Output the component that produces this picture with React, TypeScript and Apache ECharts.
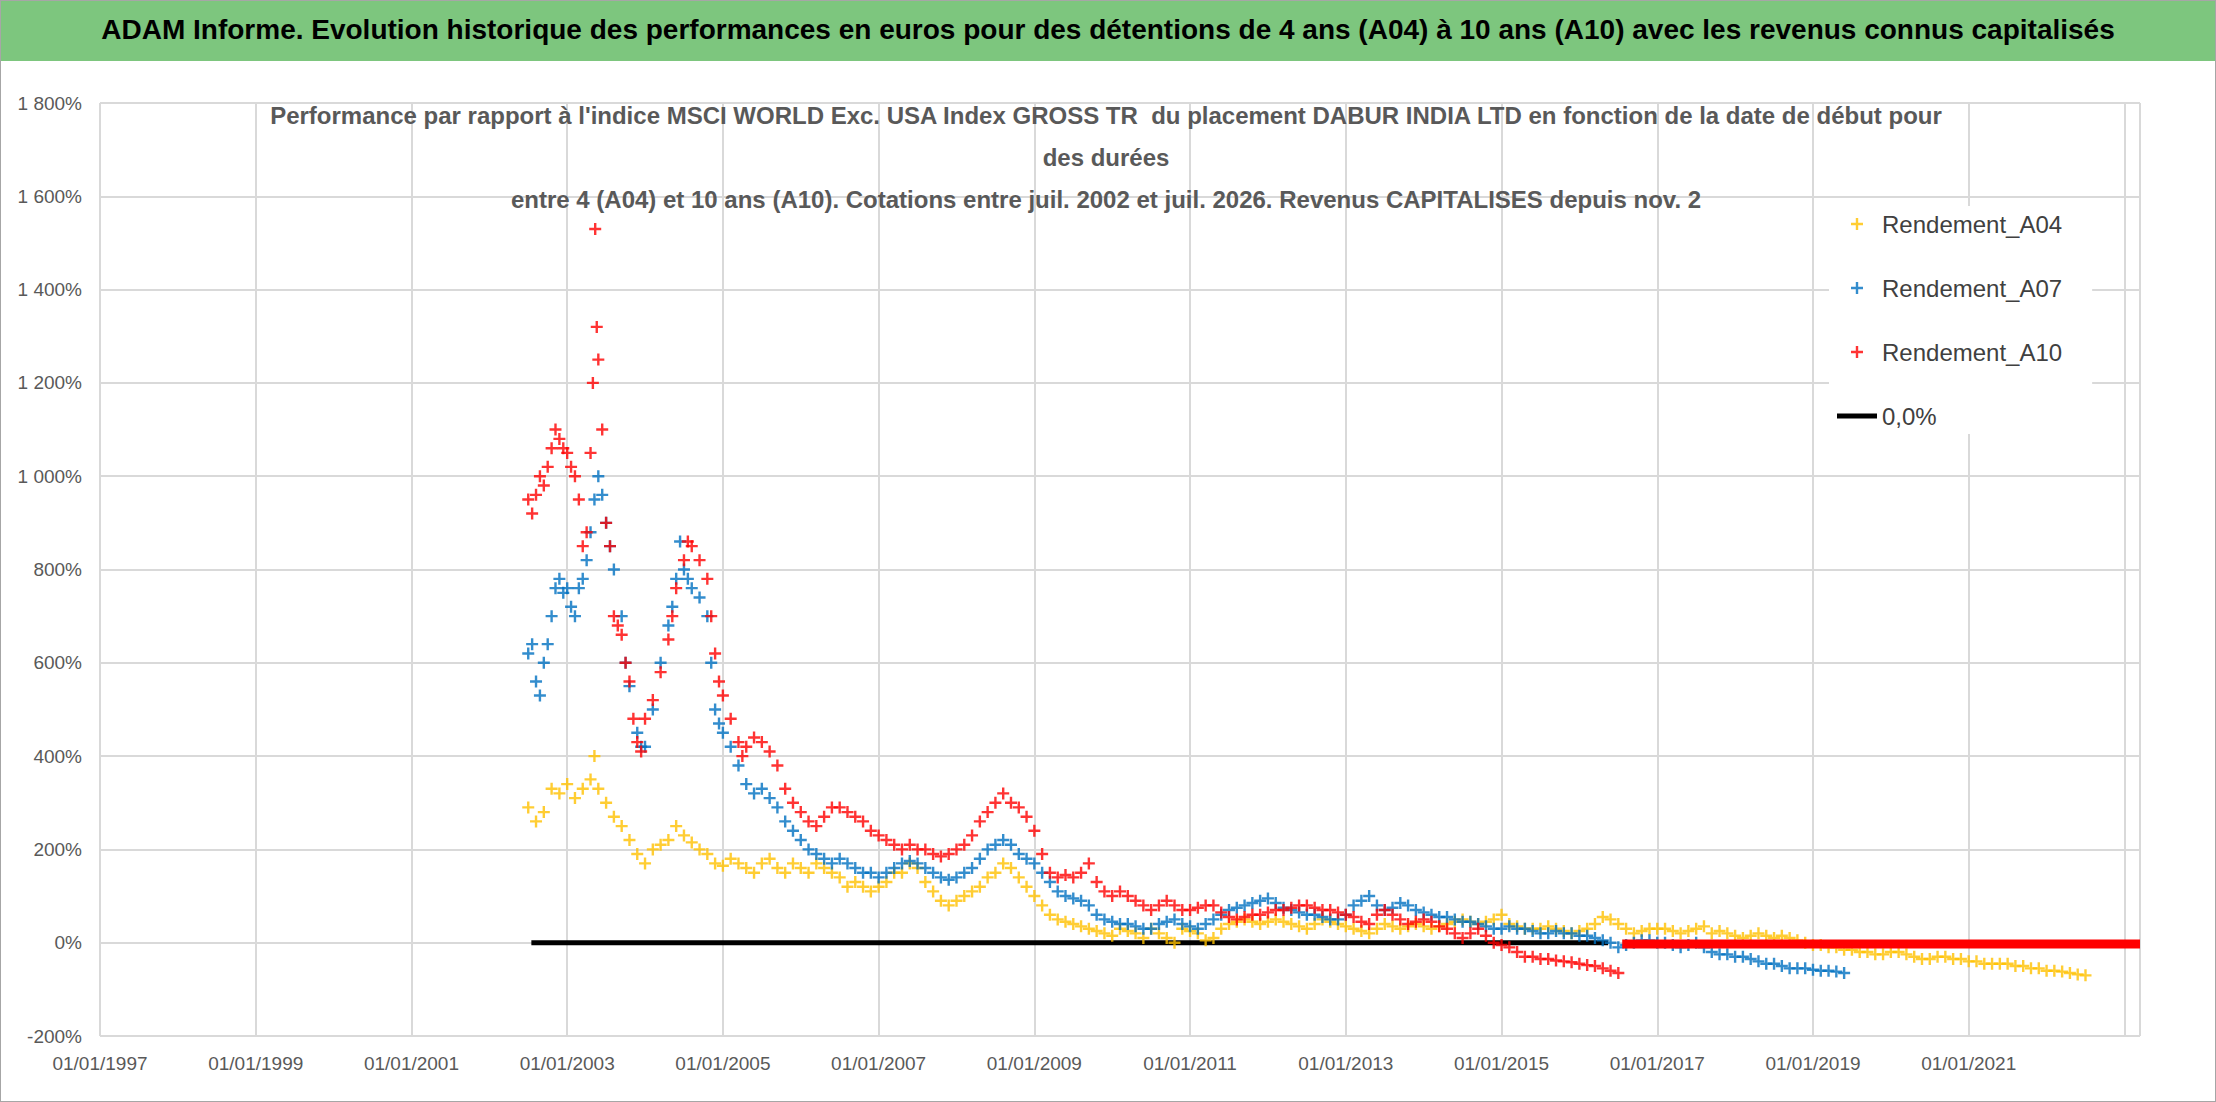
import React, { useEffect, useRef } from 'react'
import * as echarts from 'echarts'

const FONT = "'Liberation Sans', sans-serif"

const yTicks = [-200, 0, 200, 400, 600, 800, 1000, 1200, 1400, 1600, 1800]

// [année décimale, rendement %]
const rendementA04: [number, number][] = [
  [2002.5, 290], [2002.6, 260], [2002.7, 280], [2002.8, 330], [2002.9, 320], [2003.0, 340], [2003.1, 310], [2003.2, 330],
  [2003.3, 350], [2003.35, 400], [2003.4, 330], [2003.5, 300], [2003.6, 270], [2003.7, 250], [2003.8, 220], [2003.9, 190],
  [2004.0, 170], [2004.1, 200], [2004.2, 210], [2004.3, 220], [2004.4, 250], [2004.5, 230], [2004.6, 215], [2004.7, 200],
  [2004.8, 190], [2004.9, 170], [2005.0, 165], [2005.1, 180], [2005.2, 170], [2005.3, 160], [2005.4, 150], [2005.5, 170],
  [2005.6, 180], [2005.7, 160], [2005.8, 150], [2005.9, 170], [2006.0, 160], [2006.1, 150], [2006.2, 170], [2006.3, 160],
  [2006.4, 150], [2006.5, 140], [2006.6, 120], [2006.7, 130], [2006.8, 120], [2006.9, 110], [2007.0, 120], [2007.1, 130],
  [2007.2, 150], [2007.3, 150], [2007.4, 170], [2007.5, 160], [2007.6, 130], [2007.7, 110], [2007.8, 90], [2007.9, 80],
  [2008.0, 90], [2008.1, 100], [2008.2, 110], [2008.3, 120], [2008.4, 140], [2008.5, 150], [2008.6, 170], [2008.7, 160],
  [2008.8, 140], [2008.9, 120], [2009.0, 100], [2009.1, 80], [2009.2, 60], [2009.3, 50], [2009.4, 45], [2009.5, 40],
  [2009.6, 35], [2009.7, 30], [2009.8, 25], [2009.9, 20], [2010.0, 15], [2010.1, 30], [2010.2, 25], [2010.3, 20],
  [2010.4, 10], [2010.5, 30], [2010.6, 20], [2010.7, 10], [2010.8, 0], [2010.9, 30], [2011.0, 25], [2011.1, 20],
  [2011.2, 5], [2011.3, 10], [2011.4, 30], [2011.5, 40], [2011.6, 45], [2011.7, 50], [2011.8, 45], [2011.9, 40],
  [2012.0, 45], [2012.1, 50], [2012.2, 45], [2012.3, 40], [2012.4, 35], [2012.5, 30], [2012.6, 40], [2012.7, 50],
  [2012.8, 45], [2012.9, 40], [2013.0, 35], [2013.1, 30], [2013.2, 25], [2013.3, 20], [2013.4, 30], [2013.5, 40],
  [2013.6, 35], [2013.7, 30], [2013.8, 35], [2013.9, 40], [2014.0, 35], [2014.1, 30], [2014.2, 35], [2014.3, 40],
  [2014.4, 45], [2014.5, 50], [2014.6, 45], [2014.7, 40], [2014.8, 45], [2014.9, 50], [2015.0, 60], [2015.1, 40],
  [2015.2, 35], [2015.3, 30], [2015.4, 30], [2015.5, 30], [2015.6, 35], [2015.7, 30], [2015.8, 25], [2015.9, 20],
  [2016.0, 25], [2016.1, 30], [2016.2, 40], [2016.3, 55], [2016.4, 50], [2016.5, 40], [2016.6, 30], [2016.7, 20],
  [2016.8, 25], [2016.9, 30], [2017.0, 30], [2017.1, 30], [2017.2, 25], [2017.3, 20], [2017.4, 25], [2017.5, 30],
  [2017.6, 35], [2017.7, 20], [2017.8, 25], [2017.9, 20], [2018.0, 15], [2018.1, 10], [2018.2, 15], [2018.3, 20],
  [2018.4, 15], [2018.5, 10], [2018.6, 15], [2018.7, 10], [2018.8, 5], [2018.9, 0], [2019.0, -5], [2019.1, -5],
  [2019.2, -10], [2019.3, -10], [2019.4, -15], [2019.5, -15], [2019.6, -20], [2019.7, -20], [2019.8, -25], [2019.9, -25],
  [2020.0, -20], [2020.1, -20], [2020.2, -25], [2020.3, -30], [2020.4, -35], [2020.5, -35], [2020.6, -30], [2020.7, -30],
  [2020.8, -35], [2020.9, -35], [2021.0, -40], [2021.1, -40], [2021.2, -45], [2021.3, -45], [2021.4, -45], [2021.5, -45],
  [2021.6, -50], [2021.7, -50], [2021.8, -55], [2021.9, -55], [2022.0, -60], [2022.1, -60], [2022.2, -62], [2022.3, -65],
  [2022.4, -68], [2022.5, -70],
]

const rendementA07: [number, number][] = [
  [2002.5, 620], [2002.55, 640], [2002.6, 560], [2002.65, 530], [2002.7, 600], [2002.75, 640], [2002.8, 700], [2002.85, 760],
  [2002.9, 780], [2002.95, 750], [2003.0, 760], [2003.05, 720], [2003.1, 700], [2003.15, 760], [2003.2, 780], [2003.25, 820],
  [2003.3, 880], [2003.35, 950], [2003.4, 1000], [2003.45, 960], [2003.5, 900], [2003.55, 850], [2003.6, 800], [2003.7, 700],
  [2003.75, 600], [2003.8, 550], [2003.9, 450], [2003.95, 420], [2004.0, 420], [2004.1, 500], [2004.2, 600], [2004.3, 680],
  [2004.35, 720], [2004.4, 780], [2004.45, 860], [2004.5, 800], [2004.55, 780], [2004.6, 760], [2004.7, 740], [2004.8, 700],
  [2004.85, 600], [2004.9, 500], [2004.95, 470], [2005.0, 450], [2005.1, 420], [2005.2, 380], [2005.3, 340], [2005.4, 320],
  [2005.5, 330], [2005.6, 310], [2005.7, 290], [2005.8, 260], [2005.9, 240], [2006.0, 220], [2006.1, 200], [2006.2, 190],
  [2006.3, 180], [2006.4, 170], [2006.5, 180], [2006.6, 170], [2006.7, 160], [2006.8, 150], [2006.9, 150], [2007.0, 140],
  [2007.1, 150], [2007.2, 160], [2007.3, 170], [2007.4, 175], [2007.5, 170], [2007.6, 160], [2007.7, 150], [2007.8, 140],
  [2007.9, 135], [2008.0, 140], [2008.1, 150], [2008.2, 160], [2008.3, 180], [2008.4, 200], [2008.5, 210], [2008.6, 220],
  [2008.7, 210], [2008.8, 190], [2008.9, 180], [2009.0, 170], [2009.1, 150], [2009.2, 130], [2009.3, 110], [2009.4, 100],
  [2009.5, 95], [2009.6, 90], [2009.7, 80], [2009.8, 60], [2009.9, 50], [2010.0, 45], [2010.1, 40], [2010.2, 40],
  [2010.3, 35], [2010.4, 30], [2010.5, 30], [2010.6, 40], [2010.7, 45], [2010.8, 50], [2010.9, 40], [2011.0, 35],
  [2011.1, 30], [2011.2, 40], [2011.3, 50], [2011.4, 60], [2011.5, 70], [2011.6, 75], [2011.7, 80], [2011.8, 85],
  [2011.9, 90], [2012.0, 95], [2012.1, 85], [2012.2, 75], [2012.3, 70], [2012.4, 65], [2012.5, 60], [2012.6, 60],
  [2012.7, 55], [2012.8, 50], [2012.9, 50], [2013.0, 60], [2013.1, 80], [2013.2, 90], [2013.3, 100], [2013.4, 80],
  [2013.5, 70], [2013.6, 75], [2013.7, 85], [2013.8, 80], [2013.9, 70], [2014.0, 65], [2014.1, 60], [2014.2, 55],
  [2014.3, 55], [2014.4, 50], [2014.5, 45], [2014.6, 45], [2014.7, 40], [2014.8, 35], [2014.9, 30], [2015.0, 30],
  [2015.1, 35], [2015.2, 30], [2015.3, 30], [2015.4, 25], [2015.5, 20], [2015.6, 20], [2015.7, 25], [2015.8, 20],
  [2015.9, 20], [2016.0, 15], [2016.1, 15], [2016.2, 10], [2016.3, 5], [2016.4, 0], [2016.5, -10], [2016.6, -5],
  [2016.7, 0], [2016.8, 5], [2016.9, 5], [2017.0, 0], [2017.1, 0], [2017.2, -5], [2017.3, -10], [2017.4, -5],
  [2017.5, 0], [2017.6, -10], [2017.7, -20], [2017.8, -25], [2017.9, -25], [2018.0, -30], [2018.1, -30], [2018.2, -35],
  [2018.3, -40], [2018.4, -45], [2018.5, -45], [2018.6, -50], [2018.7, -55], [2018.8, -55], [2018.9, -55], [2019.0, -58],
  [2019.1, -60], [2019.2, -60], [2019.3, -62], [2019.4, -65],
]

const rendementA10: [number, number][] = [
  [2002.5, 950], [2002.55, 920], [2002.6, 960], [2002.65, 1000], [2002.7, 980], [2002.75, 1020], [2002.8, 1060], [2002.85, 1100],
  [2002.9, 1080], [2002.95, 1060], [2003.0, 1050], [2003.05, 1020], [2003.1, 1000], [2003.15, 950], [2003.2, 850], [2003.25, 880],
  [2003.3, 1050], [2003.33, 1200], [2003.36, 1530], [2003.38, 1320], [2003.4, 1250], [2003.45, 1100], [2003.5, 900], [2003.55, 850],
  [2003.6, 700], [2003.65, 680], [2003.7, 660], [2003.75, 600], [2003.8, 560], [2003.85, 480], [2003.9, 430], [2003.95, 410],
  [2004.0, 480], [2004.1, 520], [2004.2, 580], [2004.3, 650], [2004.35, 700], [2004.4, 760], [2004.5, 820], [2004.55, 860],
  [2004.6, 850], [2004.7, 820], [2004.8, 780], [2004.85, 700], [2004.9, 620], [2004.95, 560], [2005.0, 530], [2005.1, 480],
  [2005.2, 430], [2005.25, 400], [2005.3, 420], [2005.4, 440], [2005.5, 430], [2005.6, 410], [2005.7, 380], [2005.8, 330],
  [2005.9, 300], [2006.0, 280], [2006.1, 260], [2006.2, 250], [2006.3, 270], [2006.4, 290], [2006.5, 290], [2006.6, 280],
  [2006.7, 270], [2006.8, 260], [2006.9, 240], [2007.0, 230], [2007.1, 220], [2007.2, 210], [2007.3, 200], [2007.4, 210],
  [2007.5, 200], [2007.6, 200], [2007.7, 190], [2007.8, 185], [2007.9, 190], [2008.0, 200], [2008.1, 210], [2008.2, 230],
  [2008.3, 260], [2008.4, 280], [2008.5, 300], [2008.6, 320], [2008.7, 300], [2008.8, 290], [2008.9, 270], [2009.0, 240],
  [2009.1, 190], [2009.2, 150], [2009.3, 140], [2009.4, 145], [2009.5, 140], [2009.6, 150], [2009.7, 170], [2009.8, 130],
  [2009.9, 110], [2010.0, 100], [2010.1, 110], [2010.2, 100], [2010.3, 90], [2010.4, 80], [2010.5, 70], [2010.6, 80],
  [2010.7, 90], [2010.8, 80], [2010.9, 70], [2011.0, 70], [2011.1, 75], [2011.2, 80], [2011.3, 80], [2011.4, 65],
  [2011.5, 55], [2011.6, 50], [2011.7, 55], [2011.8, 60], [2011.9, 60], [2012.0, 65], [2012.1, 70], [2012.2, 70],
  [2012.3, 75], [2012.4, 80], [2012.5, 80], [2012.6, 75], [2012.7, 70], [2012.8, 70], [2012.9, 65], [2013.0, 60],
  [2013.1, 55], [2013.2, 45], [2013.3, 40], [2013.4, 60], [2013.5, 70], [2013.6, 60], [2013.7, 50], [2013.8, 40],
  [2013.9, 45], [2014.0, 50], [2014.1, 45], [2014.2, 35], [2014.3, 30], [2014.4, 20], [2014.5, 10], [2014.6, 20],
  [2014.7, 30], [2014.8, 15], [2014.9, 0], [2015.0, -5], [2015.1, -10], [2015.2, -20], [2015.3, -30], [2015.4, -30],
  [2015.5, -35], [2015.6, -35], [2015.7, -38], [2015.8, -40], [2015.9, -42], [2016.0, -45], [2016.1, -48], [2016.2, -50],
  [2016.3, -55], [2016.4, -60], [2016.5, -65],
]

// palier de la série A10 après mi-2016
const rendementA10Palier: [number, number][] = [[2016.55, -3], [2023.2, -3]]

const ligneZero: [number, number][] = [[2002.54, 0], [2016.37, 0]]

const PLUS = 'path://M4,0H6V4H10V6H6V10H4V6H0V4H4Z'
const BARRE = 'path://M0,0H40V5H0Z'

const App: React.FC = () => {
  const chartRef = useRef<HTMLDivElement>(null)

  useEffect(() => {
    if (!chartRef.current) return
    const chart = echarts.init(chartRef.current, undefined, { renderer: 'svg' })

    const scatter = (name: string, color: string, data: [number, number][]) => ({
      name,
      type: 'scatter',
      symbol: PLUS,
      symbolSize: 12,
      itemStyle: { color },
      data,
      z: 3,
    })

    const option = {
      animation: false,
      backgroundColor: '#ffffff',
      textStyle: { fontFamily: FONT },
      graphic: [
        {
          type: 'rect',
          left: 0,
          top: 0,
          shape: { width: 2216, height: 60 },
          style: { fill: '#7dc67e' },
          z: -1,
        },
        {
          type: 'text',
          left: 'center',
          top: 14,
          style: {
            text: 'ADAM Informe. Evolution historique des performances en euros pour des détentions de 4 ans (A04) à 10 ans (A10) avec les revenus connus capitalisés',
            font: `bold 28px ${FONT}`,
            fill: '#000000',
          },
        },
      ],
      title: {
        text: "Performance par rapport à l'indice MSCI WORLD Exc. USA Index GROSS TR  du placement DABUR INDIA LTD en fonction de la date de début pour\ndes durées\nentre 4 (A04) et 10 ans (A10). Cotations entre juil. 2002 et juil. 2026. Revenus CAPITALISES depuis nov. 2",
        left: 1100,
        textAlign: 'center',
        top: 88,
        textStyle: { fontFamily: FONT, fontSize: 24, fontWeight: 'bold', color: '#595959', lineHeight: 42 },
      },
      legend: {
        orient: 'vertical',
        left: 1828,
        top: 205,
        itemGap: 40,
        itemWidth: 40,
        itemHeight: 12,
        backgroundColor: '#ffffff',
        padding: [6, 30, 6, 8],
        textStyle: { fontFamily: FONT, fontSize: 24, color: '#404040' },
        data: [
          { name: 'Rendement_A04', icon: PLUS },
          { name: 'Rendement_A07', icon: PLUS },
          { name: 'Rendement_A10', icon: PLUS },
          { name: '0,0%', icon: BARRE },
        ],
      },
      grid: { left: 99, right: 75, top: 102, bottom: 65 },
      xAxis: {
        type: 'value',
        min: 1997,
        max: 2023.2,
        interval: 2,
        axisLine: { show: false },
        axisTick: { show: false },
        splitLine: { show: true, lineStyle: { color: '#d9d9d9', width: 2 } },
        axisLabel: {
          fontFamily: FONT,
          fontSize: 19,
          color: '#595959',
          margin: 18,
          formatter: (v: number) => (v > 2022 ? '' : `01/01/${v}`),
        },
      },
      yAxis: {
        type: 'value',
        min: yTicks[0],
        max: yTicks[yTicks.length - 1],
        interval: 200,
        axisLine: { show: false },
        axisTick: { show: false },
        splitLine: { lineStyle: { color: '#d9d9d9', width: 2 } },
        axisLabel: {
          fontFamily: FONT,
          fontSize: 19,
          color: '#595959',
          margin: 18,
          formatter: (v: number) => `${v >= 1000 || v <= -1000 ? String(v).replace(/(\d)(\d{3})$/, '$1 $2') : v}%`,
        },
      },
      series: [
        scatter('Rendement_A04', '#ffc000', rendementA04),
        scatter('Rendement_A07', '#0070c0', rendementA07),
        scatter('Rendement_A10', '#ff0000', rendementA10),
        {
          name: 'Rendement_A10',
          type: 'line',
          symbol: 'none',
          lineStyle: { color: '#ff0000', width: 9 },
          itemStyle: { color: '#ff0000' },
          data: rendementA10Palier,
          z: 4,
        },
        {
          name: '0,0%',
          type: 'line',
          symbol: 'none',
          lineStyle: { color: '#000000', width: 5 },
          itemStyle: { color: '#000000' },
          data: ligneZero,
          z: 2,
        },
      ],
    }

    chart.setOption(option)
    return () => chart.dispose()
  }, [])

  return (
    <div
      ref={chartRef}
      style={{ position: 'absolute', left: 0, top: 0, width: 2216, height: 1102, border: '1px solid #a6a6a6', boxSizing: 'border-box' }}
    />
  )
}

export default App
